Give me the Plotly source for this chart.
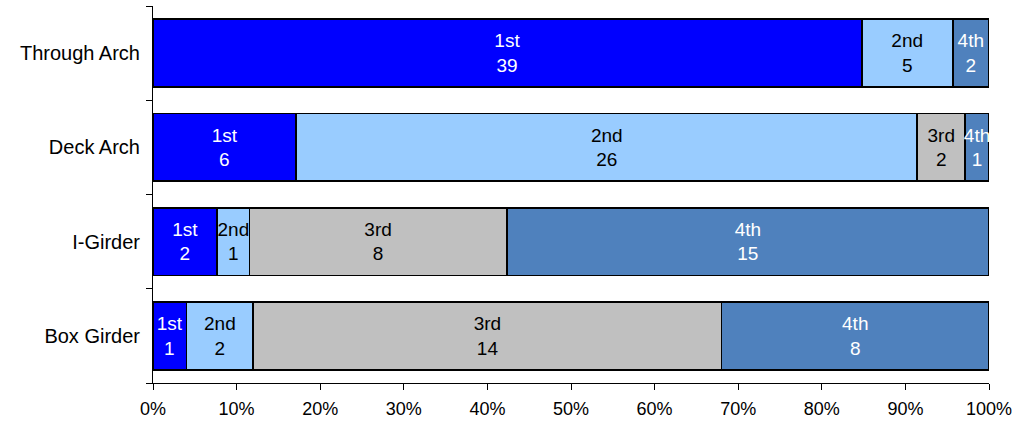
import plotly.graph_objects as go

categories = ["Through Arch", "Deck Arch", "I-Girder", "Box Girder"]
series_names = ["1st", "2nd", "3rd", "4th"]
first = [39, 6, 2, 1]
second = [5, 26, 1, 2]
third = [0, 2, 8, 14]
fourth = [2, 1, 15, 8]
x_tick_vals = [0, 10, 20, 30, 40, 50, 60, 70, 80, 90, 100]
x_tick_text = ["0%", "10%", "20%", "30%", "40%", "50%", "60%", "70%", "80%", "90%", "100%"]

colors = ["#0000FF", "#99CCFF", "#C0C0C0", "#4F81BD"]
text_colors = ["white", "black", "black", "white"]
FONT = "Liberation Sans, Arial, sans-serif"

fig = go.Figure()
for name, vals, col, tcol in zip(series_names, [first, second, third, fourth], colors, text_colors):
    fig.add_trace(go.Bar(
        y=categories,
        x=vals,
        name=name,
        orientation="h",
        marker=dict(color=col, line=dict(color="black", width=1.8)),
        text=[f"{name}<br>{v}" if v > 0 else "" for v in vals],
        textposition="inside",
        insidetextanchor="middle",
        textfont=dict(color=tcol, size=19, family=FONT),
        hoverinfo="skip",
    ))

fig.update_layout(
    barmode="stack",
    barnorm="percent",
    bargap=0.28,
    width=1013,
    height=423,
    margin=dict(l=153, r=24, t=6, b=40, autoexpand=False),
    paper_bgcolor="white",
    plot_bgcolor="white",
    showlegend=False,
    font=dict(family=FONT, size=19, color="black"),
    uniformtext=dict(minsize=19, mode="show"),
)
fig.update_xaxes(
    range=[0, 100],
    tickvals=x_tick_vals,
    ticktext=x_tick_text,
    ticks="outside",
    ticklen=6,
    tickcolor="black",
    tickfont=dict(size=18),
    ticklabelstandoff=3,
    ticklabeloverflow="allow",
    showline=True,
    linecolor="black",
    linewidth=1,
    showgrid=False,
    zeroline=False,
    automargin=False,
)
fig.update_yaxes(
    categoryorder="array",
    categoryarray=categories[::-1],
    tickson="boundaries",
    ticks="outside",
    ticklen=6,
    tickcolor="black",
    tickfont=dict(size=20),
    ticklabelstandoff=8,
    ticklabeloverflow="allow",
    showline=True,
    linecolor="black",
    linewidth=1,
    showgrid=False,
    zeroline=False,
    automargin=False,
)

fig.write_html(
    "out.html",
    config={"displayModeBar": False},
    post_script="document.body.style.margin='0';document.body.style.overflow='hidden';",
)
